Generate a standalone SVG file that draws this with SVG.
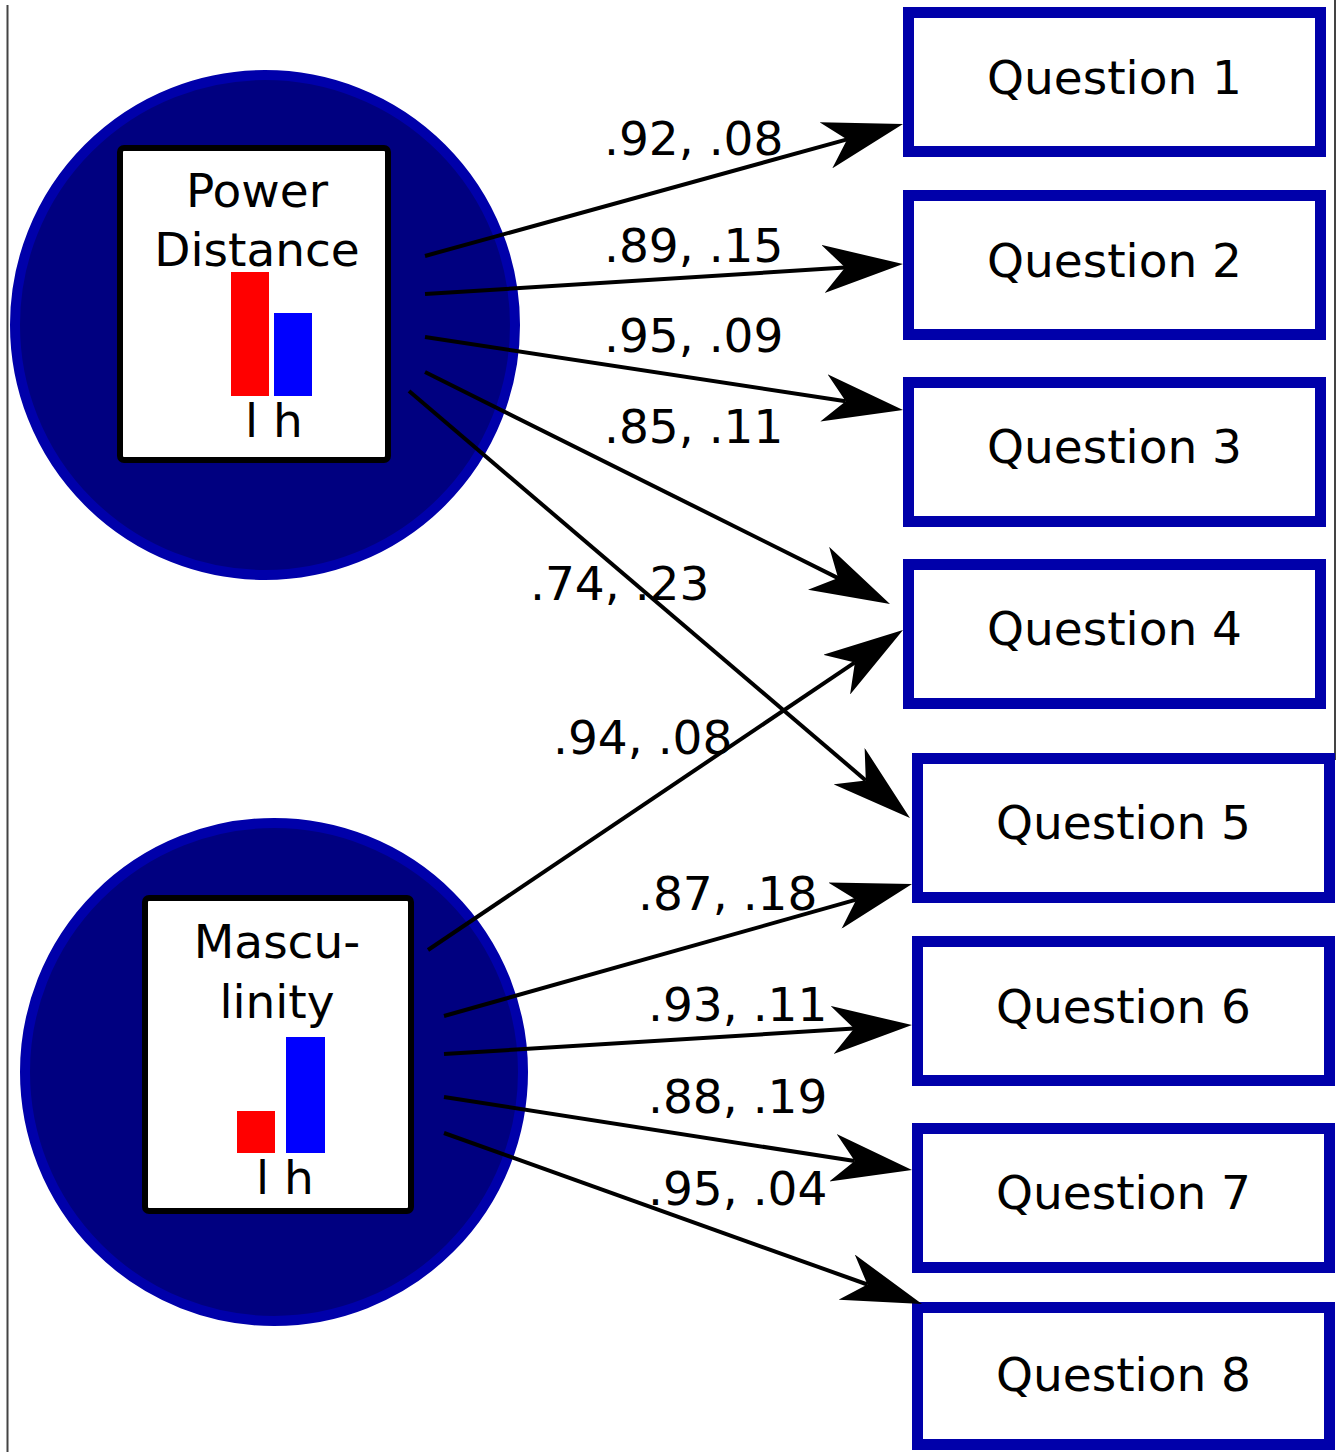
<svg xmlns="http://www.w3.org/2000/svg" width="1338" height="1452" viewBox="0 0 1338 1452">
<style>
text{font-family:"DejaVu Sans","Liberation Sans",sans-serif;font-size:47px;fill:#000}
.mid{text-anchor:middle}
.latent{fill:#000080;stroke:#0000AA;stroke-width:10}
.inner{fill:#fff;stroke:#000;stroke-width:6}
.q{fill:#fff;stroke:#0000AA;stroke-width:11}
.edge{stroke:#000;stroke-width:4;fill:none;marker-end:url(#ah)}
.frame{stroke:#444;stroke-width:2}
</style>
<defs>
<marker id="ah" markerUnits="userSpaceOnUse" markerWidth="80" markerHeight="48" refX="22" refY="24" orient="auto" viewBox="0 0 80 48">
<path d="M80,24 L0,0 L22,24 L0,48 Z" fill="#000"/>
</marker>
</defs>
<rect width="1338" height="1452" fill="#fff"/>
<line class="frame" x1="7.5" y1="5" x2="7.5" y2="1452"/>
<line class="frame" x1="1335" y1="0" x2="1335" y2="760"/>

<g id="power-distance">
<circle class="latent" cx="265" cy="325" r="250"/>
<rect class="inner" x="120" y="148" width="268" height="312" rx="4"/>
<text class="mid" x="257" y="207">Power</text>
<text class="mid" x="257" y="266">Distance</text>
<rect x="231" y="272" width="38" height="124" fill="#f00"/>
<rect x="274" y="313" width="38" height="83" fill="#00f"/>
<text x="245" y="437">l h</text>
</g>

<g id="masculinity">
<circle class="latent" cx="274" cy="1072" r="249"/>
<rect class="inner" x="145" y="898" width="266" height="313" rx="4"/>
<text class="mid" x="277" y="958">Mascu-</text>
<text class="mid" x="277" y="1018">linity</text>
<rect x="237" y="1111" width="38" height="42" fill="#f00"/>
<rect x="286" y="1037" width="39" height="116" fill="#00f"/>
<text x="256" y="1194">l h</text>
</g>

<g id="q1"><rect class="q" x="908.5" y="12.5" width="412" height="139"/><text class="mid" x="1114.5" y="94">Question 1</text></g>
<g id="q2"><rect class="q" x="908.5" y="195.5" width="412" height="139"/><text class="mid" x="1114.5" y="277">Question 2</text></g>
<g id="q3"><rect class="q" x="908.5" y="382.5" width="412" height="139"/><text class="mid" x="1114.5" y="463">Question 3</text></g>
<g id="q4"><rect class="q" x="908.5" y="564.5" width="412" height="139"/><text class="mid" x="1114.5" y="645">Question 4</text></g>
<g id="q5"><rect class="q" x="917.5" y="758.5" width="412" height="139"/><text class="mid" x="1123.5" y="839">Question 5</text></g>
<g id="q6"><rect class="q" x="917.5" y="941.5" width="412" height="139"/><text class="mid" x="1123.5" y="1023">Question 6</text></g>
<g id="q7"><rect class="q" x="917.5" y="1128.5" width="412" height="139"/><text class="mid" x="1123.5" y="1209">Question 7</text></g>
<g id="q8"><rect class="q" x="917.5" y="1307.5" width="412" height="137"/><text class="mid" x="1123.5" y="1391">Question 8</text></g>

<g id="connectors">
<line class="edge" x1="425" y1="256" x2="847.1" y2="139.4"/>
<line class="edge" x1="425" y1="294" x2="845.1" y2="267.6"/>
<line class="edge" x1="425" y1="337" x2="845.7" y2="401.2"/>
<line class="edge" x1="425" y1="372" x2="838.1" y2="578.1"/>
<line class="edge" x1="409" y1="391" x2="865.8" y2="780.4"/>
<line class="edge" x1="428" y1="950" x2="854.9" y2="662.4"/>
<line class="edge" x1="444" y1="1016" x2="856.2" y2="899.7"/>
<line class="edge" x1="444" y1="1054" x2="854.1" y2="1028.6"/>
<line class="edge" x1="444" y1="1097" x2="854.7" y2="1161.1"/>
<line class="edge" x1="444" y1="1133" x2="867.4" y2="1284.5"/>
<text x="604" y="155">.92, .08</text>
<text x="604" y="262">.89, .15</text>
<text x="604" y="352">.95, .09</text>
<text x="604" y="443">.85, .11</text>
<text x="530" y="600">.74, .23</text>
<text x="553" y="754">.94, .08</text>
<text x="638" y="910">.87, .18</text>
<text x="648" y="1021">.93, .11</text>
<text x="648" y="1113">.88, .19</text>
<text x="648" y="1205">.95, .04</text>
</g>
</svg>
